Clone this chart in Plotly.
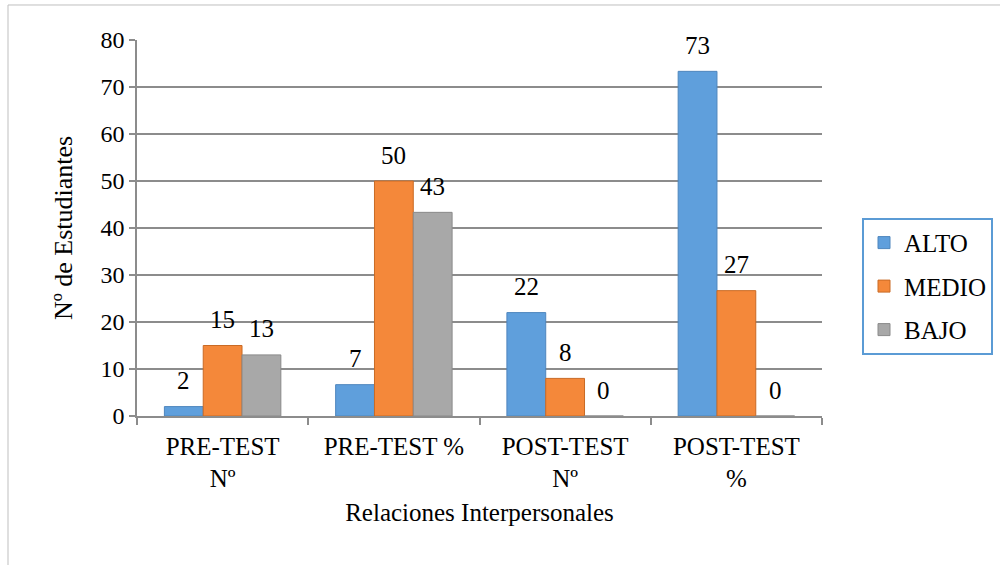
import plotly.graph_objects as go

categories = ["PRE-TEST<br>Nº", "PRE-TEST %", "POST-TEST<br>Nº", "POST-TEST<br>%"]
series_names = ["ALTO", "MEDIO", "BAJO"]
alto = [2, 6.67, 22, 73.33]
medio = [15, 50, 8, 26.67]
bajo = [13, 43.33, 0, 0]
alto_labels = ["2", "7", "22", "73"]
medio_labels = ["15", "50", "8", "27"]
bajo_labels = ["13", "43", "0", "0"]

colors = ["#5f9fdc", "#f4883a", "#a8a8a8"]
edge = ["#4f86bd", "#c96a25", "#8a8a8a"]
values = [alto, medio, bajo]
labels = [alto_labels, medio_labels, bajo_labels]

FONT = "Liberation Serif, Times New Roman, serif"
bargap = 0.32
bw = (1 - bargap) / 3

fig = go.Figure()
for i, (name, vals) in enumerate(zip(series_names, values)):
    fig.add_trace(go.Bar(
        x=categories, y=vals, name=name,
        marker=dict(color=colors[i], line=dict(color=edge[i], width=1)),
        legendgroup=name,
    ))

annotations = []
for i, labs in enumerate(labels):
    for j, (lab, v) in enumerate(zip(labs, values[i])):
        annotations.append(dict(
            x=j + (i - 1) * bw, y=v, xref="x", yref="y",
            text=lab, showarrow=False, yshift=26,
            font=dict(family=FONT, size=25, color="#000000"),
        ))

fig.update_layout(
    template="none",
    width=1000, height=565,
    margin=dict(l=137, r=178, t=40, b=149, autoexpand=False),
    paper_bgcolor="white", plot_bgcolor="white",
    barmode="group", bargap=bargap, bargroupgap=0,
    font=dict(family=FONT, size=25, color="#000000"),
    annotations=annotations,
    showlegend=True,
    legend=dict(
        x=1.0584, y=0.527, xanchor="left", yanchor="top",
        bordercolor="#5b9bd5", borderwidth=2, bgcolor="white",
        font=dict(family=FONT, size=25, color="#000000"),
        tracegroupgap=8, itemwidth=30,
    ),
    xaxis=dict(
        type="category", tickson="boundaries",
        showline=True, linecolor="#8c8c8c", linewidth=1.5,
        ticks="outside", ticklen=7, tickcolor="#8c8c8c", tickwidth=1.5,
        ticklabelstandoff=7,
        showgrid=False, zeroline=False,
        title=dict(text="Relaciones Interpersonales",
                   font=dict(family=FONT, size=25, color="#000000"), standoff=12),
        tickfont=dict(family=FONT, size=25, color="#000000"),
    ),
    yaxis=dict(
        range=[0, 80], dtick=10,
        showline=True, linecolor="#8c8c8c", linewidth=1.5,
        ticks="outside", ticklen=6, tickcolor="#8c8c8c", tickwidth=1.5,
        showgrid=True, gridcolor="#8c8c8c", gridwidth=1.5,
        zeroline=False,
        title=dict(text="Nº de Estudiantes",
                   font=dict(family=FONT, size=26, color="#000000"), standoff=20),
        tickfont=dict(family=FONT, size=24, color="#000000"),
    ),
    shapes=[dict(
        type="rect", xref="paper", yref="paper",
        x0=-0.1883, x1=1.274, y0=-0.42, y1=1.0931,
        line=dict(color="#bfbfbf", width=1), layer="below",
    )],
)

fig.write_html("out.html", config={"displayModeBar": False},
               post_script="document.body.style.margin='0';")
